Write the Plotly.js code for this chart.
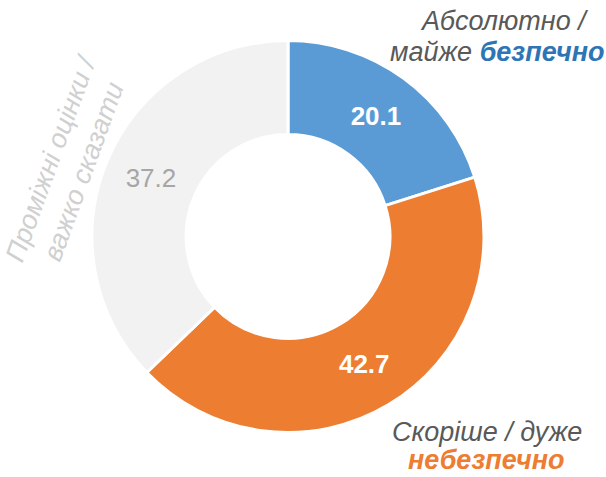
<!DOCTYPE html>
<html>
<head>
<meta charset="utf-8">
<script src="https://cdn.plot.ly/plotly-3.0.1.min.js"></script>
<style>
  html, body { margin: 0; padding: 0; background: #fff; }
  #chart { width: 606px; height: 477px; }
</style>
</head>
<body>
<div id="chart"></div>
<script>
// answer categories and shares (%)
const categories = ['Абсолютно / майже безпечно', 'Скоріше / дуже небезпечно', 'Проміжні оцінки / важко сказати'];
const shares = [20.1, 42.7, 37.2];
const sliceColors = ['#5B9BD5', '#ED7D31', '#F2F2F2'];
const valueColors = ['#ffffff', '#ffffff', '#A6A6A6'];

const FONT = 'Liberation Sans, Arial, sans-serif';

const trace = {
    type: 'pie',
    labels: categories,
    values: shares,
    sort: false,
    direction: 'clockwise',
    rotation: 0,
    hole: 0.52,
    marker: { colors: sliceColors, line: { color: '#ffffff', width: 3 } },
    texttemplate: '%{value:.1f}',
    textposition: 'inside',
    insidetextorientation: 'horizontal',
    textfont: {
        family: FONT,
        size: 26,
        color: valueColors,
        weight: ['bold', 'bold', 'normal']
    },
    domain: { x: [0.1518, 0.7987], y: [0.0933, 0.915] },
    showlegend: false,
    hoverinfo: 'label+value'
};

const layout = {
    width: 606,
    height: 477,
    margin: { l: 0, r: 0, t: 0, b: 0 },
    paper_bgcolor: '#ffffff',
    font: { family: FONT },
    annotations: [
        {
            text: '<i>Абсолютно /</i>',
            x: 504, y: 21,
            font: { size: 27, color: '#595959', family: FONT }
        },
        {
            text: '<i>майже <b><span style="color:#2E75B6">безпечно</span></b></i>',
            x: 497, y: 52,
            font: { size: 27, color: '#595959', family: FONT }
        },
        {
            text: '<i>Скоріше / дуже</i>',
            x: 487, y: 432,
            font: { size: 27, color: '#595959', family: FONT }
        },
        {
            text: '<i><b>небезпечно</b></i>',
            x: 486, y: 460,
            font: { size: 27, color: '#ED7D31', family: FONT }
        },
        {
            text: '<i>Проміжні оцінки /<br>важко сказати</i>',
            x: 67, y: 164,
            textangle: -70,
            font: { size: 27, color: '#D0D0D0', family: FONT }
        }
    ].map(a => Object.assign({}, a, {
        // annotation positions given in pixels, converted to paper fractions
        xref: 'paper', yref: 'paper',
        x: a.x / 606, y: 1 - a.y / 477,
        xanchor: 'center', yanchor: 'middle',
        showarrow: false
    }))
};

Plotly.newPlot('chart', [trace], layout, { displayModeBar: false, staticPlot: true });
</script>
</body>
</html>
